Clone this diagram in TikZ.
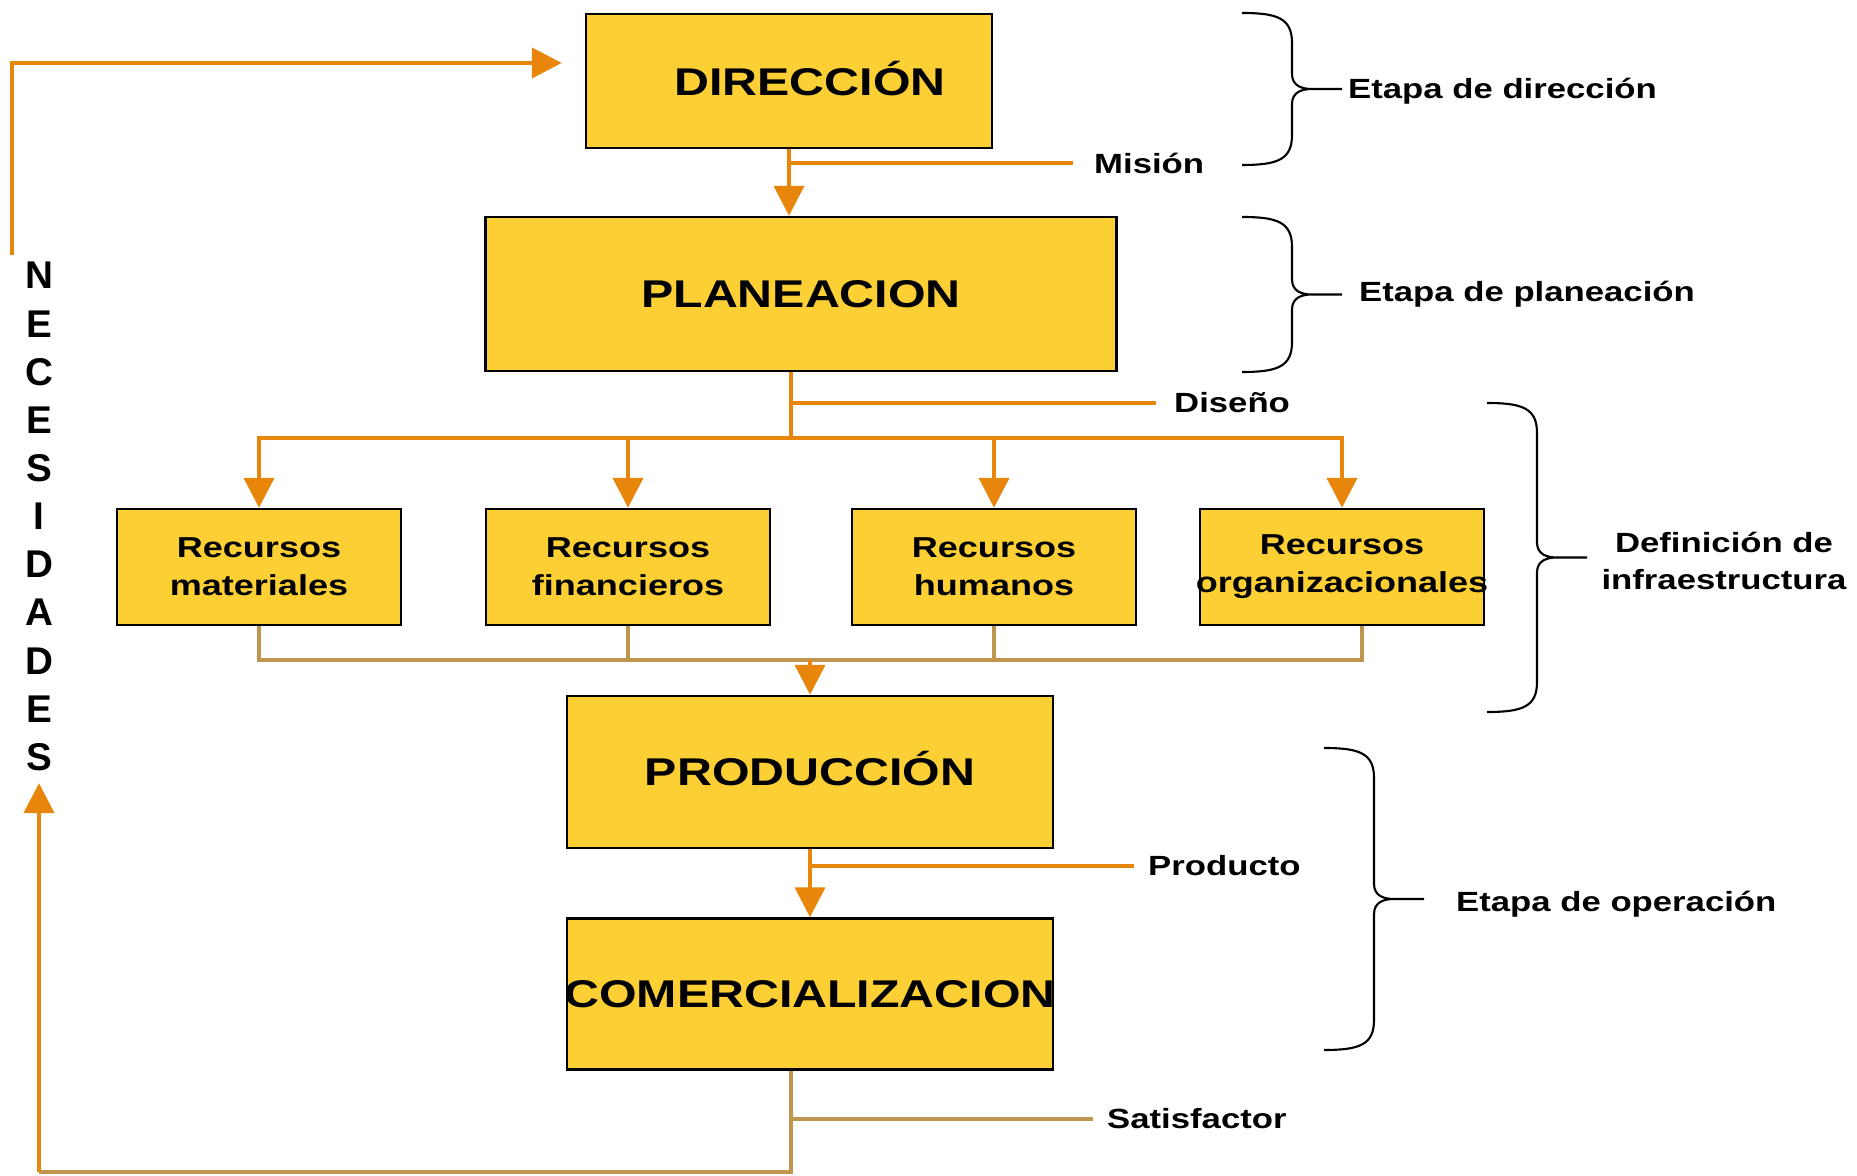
\documentclass[tikz,border=0pt]{standalone}
\usepackage{fontspec}
\setmainfont{Liberation Sans}[FakeStretch=1.25]
\newfontfamily\letrasfont{Liberation Sans}
\usetikzlibrary{arrows.meta}
\definecolor{caja}{RGB}{252,207,52}
\definecolor{naranja}{RGB}{232,134,12}
\definecolor{ocre}{RGB}{192,150,78}

% llave: x de los extremos, y de arriba, y de abajo
\newcommand{\llave}[3]{%
  \draw[llave] ({#1},{#2}) .. controls ({#1+0.35},{#2}) and ({#1+0.5},{#2-0.05}) .. ({#1+0.5},{#2-0.3})
    -- ({#1+0.5},{(#2+#3)/2+0.15}) .. controls ({#1+0.5},{(#2+#3)/2+0.03}) and ({#1+0.6},{(#2+#3)/2}) .. ({#1+0.7},{(#2+#3)/2})
    -- ({#1+1},{(#2+#3)/2})
    ({#1+0.7},{(#2+#3)/2}) .. controls ({#1+0.6},{(#2+#3)/2}) and ({#1+0.5},{(#2+#3)/2-0.03}) .. ({#1+0.5},{(#2+#3)/2-0.15})
    -- ({#1+0.5},{#3+0.3}) .. controls ({#1+0.5},{#3+0.05}) and ({#1+0.35},{#3}) .. ({#1},{#3});
}

\begin{document}
\begin{tikzpicture}[
  etapa/.style={draw, line width=0.7pt, fill=caja, inner sep=0pt, font=\fontsize{11}{13}\selectfont\bfseries},
  recurso/.style={draw, line width=0.7pt, fill=caja, inner sep=0pt, text width=2.84cm, minimum height=1.16cm, align=center, font=\fontsize{8.2}{10.8}\selectfont\bfseries},
  rotulo/.style={inner sep=1pt, anchor=west, font=\fontsize{7.9}{10.5}\selectfont\bfseries},
  linea/.style={draw=naranja, line width=1.2pt},
  flecha/.style={linea, -{Triangle[width=8.5pt,length=8.5pt]}},
  linea ocre/.style={draw=ocre, line width=1.2pt},
  llave/.style={line width=0.6pt}
]
\useasboundingbox (0,0) rectangle (18.57,11.75);

\node[etapa, minimum width=4.06cm, minimum height=1.34cm] (Direccion) at (7.89,10.94) {\hspace*{0.42cm}\raisebox{0.6mm}{DIRECCIÓN}};
\node[etapa, minimum width=6.31cm, minimum height=1.54cm] (Planeacion) at (8.01,8.81) {PLANEACION};

\node[recurso] (Recursos 1) at (2.59,6.08) {Recursos\\materiales};
\node[recurso] (Recursos 2) at (6.28,6.08) {Recursos\\financieros};
\node[recurso] (Recursos 3) at (9.94,6.08) {Recursos\\humanos};
\node[recurso] (Recursos 4) at (13.42,6.08) {Recursos\\\makebox[\linewidth]{organizacionales}};

\node[etapa, minimum width=4.86cm, minimum height=1.52cm] (Produccion) at (8.10,4.03) {\raisebox{0.7mm}{PRODUCCIÓN}};
\node[etapa, minimum width=4.86cm, minimum height=1.51cm] (Comercializacion) at (8.10,1.81) {\raisebox{-0.6mm}{\makebox[4.86cm]{COMERCIALIZACION}}};

\node[font=\letrasfont\fontsize{11}{13.7}\selectfont\bfseries, align=center] (Necesidades) at (0.39,6.585) {N\\E\\C\\E\\S\\I\\D\\A\\D\\E\\S};

\node[rotulo] (Mision) at (10.90,10.12) {Misión};
\node[rotulo] (Diseno) at (11.70,7.72) {Diseño};
\node[rotulo] (Producto) at (11.44,3.09) {Producto};
\node[rotulo] (Satisfactor) at (11.03,0.56) {Satisfactor};

\node[rotulo] (Etapa direccion) at (13.44,10.84) {Etapa de dirección};
\node[rotulo] (Etapa planeacion) at (13.55,8.81) {Etapa de planeación};
\node[rotulo, anchor=center, align=center] (Infraestructura) at (17.24,6.14) {Definición de\\infraestructura};
\node[rotulo] (Etapa operacion) at (14.52,2.71) {Etapa de operación};

\llave{12.42}{11.62}{10.10}
\llave{12.42}{9.58}{8.03}
\llave{14.87}{7.72}{4.63}
\llave{13.24}{4.27}{1.25}

\coordinate (Inicio) at (0.12,9.20);
\coordinate (Reparto) at (7.91,7.37);
\coordinate (Acopio) at (8.10,5.15);
\coordinate (Salida) at (7.91,0.03);
\coordinate (Esquina) at (0.39,0.03);

\draw[flecha] (Inicio) |- ([xshift=-2.3mm,yshift=1.8mm]Direccion.west);
\draw[flecha] (Direccion.south) -- (Direccion.south |- Planeacion.north);
\draw[linea] (Direccion.south |- Mision.west) -- ([xshift=-1.7mm]Mision.west);

\draw[linea] (Reparto |- Planeacion.south) -- (Reparto);
\draw[linea] (Reparto |- Diseno.west) -- ([xshift=-1.4mm]Diseno.west);
\draw[flecha] (Reparto) -| (Recursos 1.north);
\draw[flecha] (Reparto) -| (Recursos 2.north);
\draw[flecha] (Reparto) -| (Recursos 3.north);
\draw[flecha] (Reparto) -| (Recursos 4.north);

\draw[linea ocre] (Recursos 1.south) |- (Acopio);
\draw[linea ocre] (Recursos 2.south) |- (Acopio);
\draw[linea ocre] (Recursos 3.south) |- (Acopio);
\draw[linea ocre] ([xshift=2mm]Recursos 4.south) |- (Acopio);
\draw[flecha] (Acopio) -- (Produccion.north);

\draw[flecha] (Produccion.south) -- (Comercializacion.north);
\draw[linea] (Produccion.south |- Producto.west) -- ([xshift=-1mm]Producto.west);

\draw[linea ocre] (Salida |- Comercializacion.south) -- (Salida) -- (Esquina);
\draw[flecha] (Esquina) -- (Esquina |- Necesidades.south);
\draw[linea ocre] (Salida |- Satisfactor.west) -- ([xshift=-1mm]Satisfactor.west);

\end{tikzpicture}
\end{document}
